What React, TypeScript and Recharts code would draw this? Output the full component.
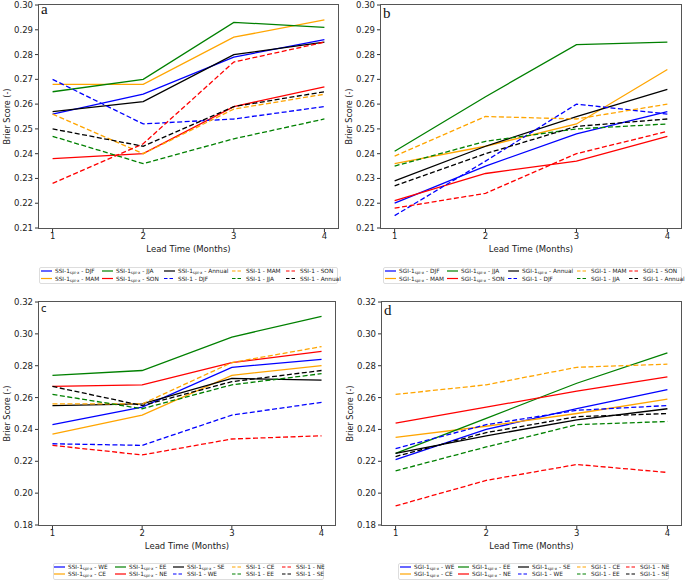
import { LineChart, Line, XAxis, YAxis } from 'recharts';

const leadTimes = [1, 2, 3, 4];
const seasons = ['DJF', 'MAM', 'JJA', 'SON', 'Annual'];
const regions = ['WE', 'CE', 'EE', 'NE', 'SE'];
const colors = ['blue', 'orange', 'green', 'red', 'black'];
const ticksTop = [0.21, 0.22, 0.23, 0.24, 0.25, 0.26, 0.27, 0.28, 0.29, 0.3];
const ticksBottom = [0.18, 0.2, 0.22, 0.24, 0.26, 0.28, 0.3, 0.32];

// (a) SSI by season
const ssiSpiDJF = [0.256, 0.264, 0.279, 0.286];
const ssiSpiMAM = [0.268, 0.268, 0.287, 0.294];
const ssiSpiJJA = [0.265, 0.27, 0.293, 0.291];
const ssiSpiSON = [0.238, 0.24, 0.259, 0.267];
const ssiSpiAnnual = [0.257, 0.261, 0.28, 0.285];
const ssiDJF = [0.27, 0.252, 0.254, 0.259];
const ssiMAM = [0.256, 0.24, 0.258, 0.264];
const ssiJJA = [0.247, 0.236, 0.246, 0.254];
const ssiSON = [0.228, 0.244, 0.277, 0.285];
const ssiAnnual = [0.25, 0.243, 0.259, 0.265];

// (b) SGI by season
const sgiSpiDJF = [0.22, 0.235, 0.248, 0.257];
const sgiSpiMAM = [0.236, 0.243, 0.252, 0.274];
const sgiSpiJJA = [0.241, 0.263, 0.284, 0.285];
const sgiSpiSON = [0.221, 0.232, 0.237, 0.247];
const sgiSpiAnnual = [0.229, 0.243, 0.255, 0.266];
const sgiDJF = [0.215, 0.237, 0.26, 0.256];
const sgiMAM = [0.239, 0.255, 0.254, 0.26];
const sgiJJA = [0.235, 0.245, 0.25, 0.252];
const sgiSON = [0.218, 0.224, 0.24, 0.249];
const sgiAnnual = [0.227, 0.24, 0.251, 0.254];

// (c) SSI by region
const ssiSpiWE = [0.243, 0.254, 0.279, 0.284];
const ssiSpiCE = [0.237, 0.249, 0.274, 0.28];
const ssiSpiEE = [0.274, 0.277, 0.298, 0.311];
const ssiSpiNE = [0.267, 0.268, 0.282, 0.289];
const ssiSpiSE = [0.255, 0.256, 0.272, 0.271];
const ssiWE = [0.231, 0.23, 0.249, 0.257];
const ssiCE = [0.256, 0.256, 0.282, 0.292];
const ssiEE = [0.262, 0.253, 0.268, 0.275];
const ssiNE = [0.23, 0.224, 0.234, 0.236];
const ssiSE = [0.267, 0.255, 0.27, 0.277];

// (d) SGI by region
const sgiSpiWE = [0.221, 0.24, 0.253, 0.265];
const sgiSpiCE = [0.235, 0.242, 0.25, 0.259];
const sgiSpiEE = [0.225, 0.247, 0.269, 0.288];
const sgiSpiNE = [0.244, 0.254, 0.264, 0.273];
const sgiSpiSE = [0.225, 0.236, 0.246, 0.253];
const sgiWE = [0.228, 0.243, 0.252, 0.255];
const sgiCE = [0.262, 0.268, 0.279, 0.281];
const sgiEE = [0.214, 0.229, 0.243, 0.245];
const sgiNE = [0.192, 0.208, 0.218, 0.213];
const sgiSE = [0.223, 0.238, 0.248, 0.25];

interface Series {
  key: string;
  index: string;
  spi: boolean;
  group: string;
  color: string;
  values: number[];
}

const buildSeries = (index: string, groups: string[], spiVals: number[][], plainVals: number[][]): Series[] => [
  ...groups.map((g, i) => ({ key: `spi_${g}`, index, spi: true, group: g, color: colors[i], values: spiVals[i] })),
  ...groups.map((g, i) => ({ key: `std_${g}`, index, spi: false, group: g, color: colors[i], values: plainVals[i] })),
];

const Y_AXIS_W = 39;
const PLOT_TOP = 5;
const PLOT_BOTTOM = 228;
const X_AXIS_H = 24;
const CHART_H = 258;

const panels = [
  {
    letter: 'a', serif: true, letterDy: 8.5,
    left: 0, top: 0, width: 340, rightMargin: 2,
    yDomain: [0.21, 0.30001], yTicks: ticksTop,
    series: buildSeries('SSI', seasons,
      [ssiSpiDJF, ssiSpiMAM, ssiSpiJJA, ssiSpiSON, ssiSpiAnnual],
      [ssiDJF, ssiMAM, ssiJJA, ssiSON, ssiAnnual]),
    legend: { left: 39, top: 267, width: 298, height: 16, cols: [2, 63, 125, 193, 247], rows: [4, 11.5] },
  },
  {
    letter: 'b', serif: true, letterDy: 13,
    left: 342, top: 0, width: 343, rightMargin: 4,
    yDomain: [0.21, 0.30001], yTicks: ticksTop,
    series: buildSeries('SGI', seasons,
      [sgiSpiDJF, sgiSpiMAM, sgiSpiJJA, sgiSpiSON, sgiSpiAnnual],
      [sgiDJF, sgiMAM, sgiJJA, sgiSON, sgiAnnual]),
    legend: { left: 383, top: 267, width: 298, height: 16, cols: [2, 64, 125, 194, 246], rows: [4, 11.5] },
  },
  {
    letter: 'c', serif: false, letterDy: 9.7,
    left: 0, top: 297, width: 340, rightMargin: 5,
    yDomain: [0.18, 0.32001], yTicks: ticksBottom,
    series: buildSeries('SSI', regions,
      [ssiSpiWE, ssiSpiCE, ssiSpiEE, ssiSpiNE, ssiSpiSE],
      [ssiWE, ssiCE, ssiEE, ssiNE, ssiSE]),
    legend: { left: 53, top: 563, width: 270, height: 16, cols: [1, 62, 120, 179, 229], rows: [4, 11] },
  },
  {
    letter: 'd', serif: true, letterDy: 13,
    left: 343, top: 297, width: 342, rightMargin: 4,
    yDomain: [0.18, 0.32001], yTicks: ticksBottom,
    series: buildSeries('SGI', regions,
      [sgiSpiWE, sgiSpiCE, sgiSpiEE, sgiSpiNE, sgiSpiSE],
      [sgiWE, sgiCE, sgiEE, sgiNE, sgiSE]),
    legend: { left: 398, top: 563, width: 270, height: 16, cols: [2, 60, 120, 179, 228], rows: [4, 11] },
  },
];

type PanelDef = (typeof panels)[number];

const Panel = ({ p }: { p: PanelDef }) => {
  const data = leadTimes.map((lead, i) => {
    const row: Record<string, number> = { lead };
    p.series.forEach((s) => { row[s.key] = s.values[i]; });
    return row;
  });

  return (
    <div style={{ position: 'absolute', left: p.left, top: p.top }}>
      <LineChart width={p.width} height={CHART_H} data={data}
        margin={{ top: PLOT_TOP, right: p.rightMargin, left: 0, bottom: CHART_H - PLOT_BOTTOM - X_AXIS_H }}>
        <XAxis dataKey="lead" type="number" domain={[0.85, 4.15]} ticks={leadTimes}
          axisLine={false} tickSize={4} tickMargin={1} height={X_AXIS_H}
          tick={{ fontSize: 8.5, fill: '#222' }} tickLine={{ stroke: '#333' }}
          label={{ value: 'Lead Time (Months)', position: 'insideBottom', offset: 0, fontSize: 8.5, fill: '#222' }} />
        <YAxis type="number" domain={p.yDomain} ticks={p.yTicks} interval={0} width={Y_AXIS_W}
          axisLine={false} tickSize={4} tickMargin={2}
          tickFormatter={(v: number) => v.toFixed(2)}
          tick={{ fontSize: 8.5, fill: '#222' }} tickLine={{ stroke: '#333' }} />
        {p.series.map((s) => (
          <Line key={s.key} dataKey={s.key} type="linear" stroke={s.color} strokeWidth={1.3}
            strokeDasharray={s.spi ? undefined : '5 2.5'} dot={false} activeDot={false}
            isAnimationActive={false} />
        ))}
      </LineChart>
    </div>
  );
};

const Decorations = ({ p }: { p: PanelDef }) => {
  const x0 = p.left + Y_AXIS_W;
  const x1 = p.left + p.width - p.rightMargin;
  const y0 = p.top + PLOT_TOP;
  const y1 = p.top + PLOT_BOTTOM;
  const lx = x0 - 32;
  const ly = (y0 + y1) / 2;
  const lg = p.legend;
  return (
    <g>
      <rect x={x0 - 0.5} y={y0 - 0.5} width={x1 - x0 + 1} height={y1 - y0 + 1} fill="none" stroke="#555" strokeWidth={1} />
      <text x={x0 + 2} y={y0 + p.letterDy} fontSize={p.serif ? 15 : 10}
        fontFamily={p.serif ? 'Liberation Serif' : 'DejaVu Sans'} fill="#111">{p.letter}</text>
      <text x={lx} y={ly} transform={`rotate(-90 ${lx} ${ly})`} textAnchor="middle"
        dominantBaseline="central" fontSize={8} fill="#222">Brier Score (-)</text>
      <rect x={lg.left + 0.5} y={lg.top + 0.5} width={lg.width} height={lg.height} rx={1.5}
        fill="#fff" stroke="#d4d4d4" strokeWidth={0.8} />
      {p.series.map((s, i) => {
        const ex = lg.left + lg.cols[Math.floor(i / 2)];
        const ey = lg.top + lg.rows[i % 2];
        return (
          <g key={s.key}>
            <line x1={ex} x2={ex + 11} y1={ey} y2={ey} stroke={s.color} strokeWidth={1.2}
              strokeDasharray={s.spi ? undefined : '3.5 2'} />
            <text x={ex + 14} y={ey + 2} fontSize={5.8} fill="#222">
              {s.index}-1
              {s.spi ? <tspan fontSize={4} dy={1}>spi-x</tspan> : null}
              <tspan dy={s.spi ? -1 : 0}>{` - ${s.group}`}</tspan>
            </text>
          </g>
        );
      })}
    </g>
  );
};

export default function App() {
  return (
    <div style={{ position: 'absolute', left: 0, top: 0, width: 685, height: 581, fontFamily: 'DejaVu Sans', background: '#fff', overflow: 'hidden' }}>
      {panels.map((p) => <Panel key={p.letter} p={p} />)}
      <svg width={685} height={581} style={{ position: 'absolute', left: 0, top: 0, pointerEvents: 'none' }}>
        {panels.map((p) => <Decorations key={p.letter} p={p} />)}
      </svg>
    </div>
  );
}
